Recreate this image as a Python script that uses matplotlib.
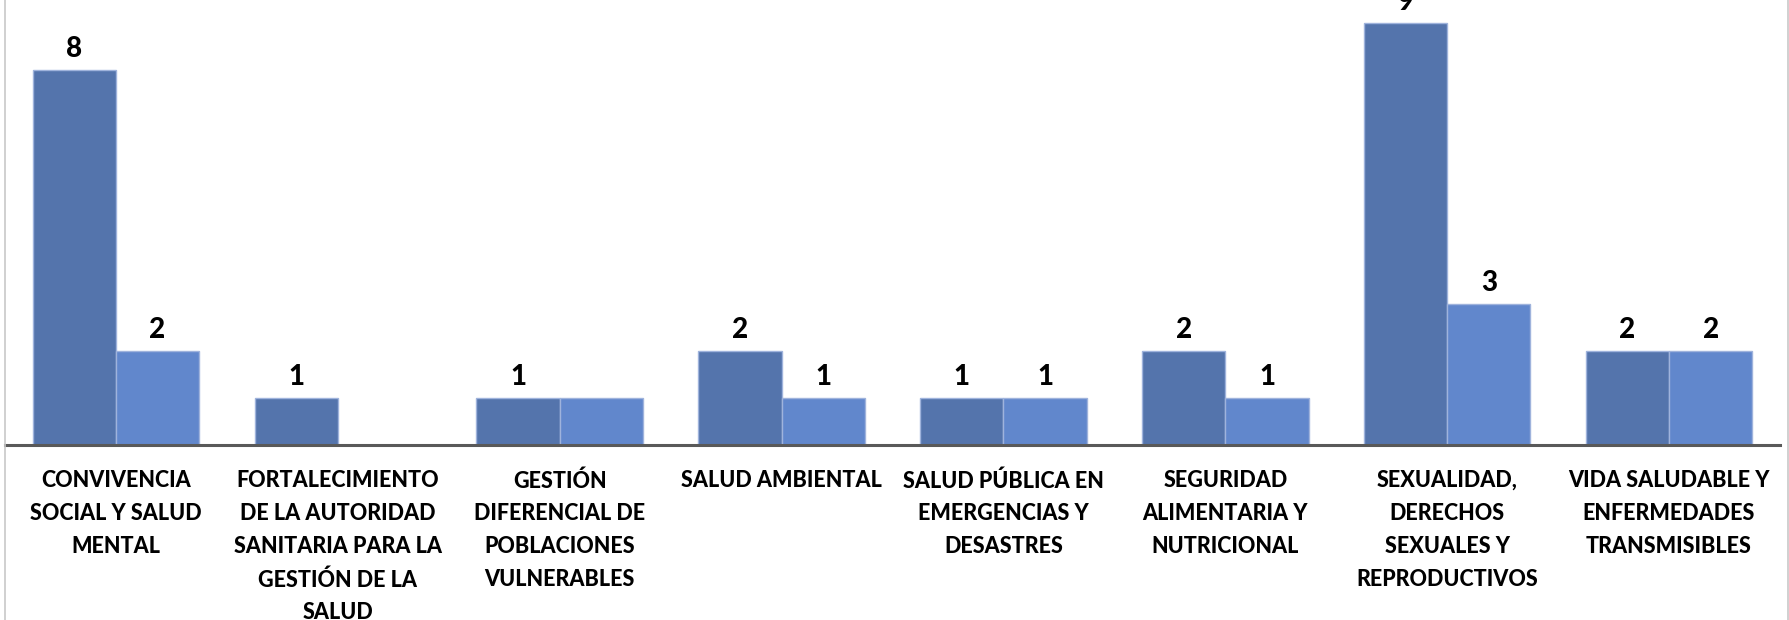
import numpy as np
import matplotlib
matplotlib.use("Agg")
import matplotlib.pyplot as plt
from matplotlib.lines import Line2D

categories = [
    "CONVIVENCIA\nSOCIAL Y SALUD\nMENTAL",
    "FORTALECIMIENTO\nDE LA AUTORIDAD\nSANITARIA PARA LA\nGESTIÓN DE LA\nSALUD",
    "GESTIÓN\nDIFERENCIAL DE\nPOBLACIONES\nVULNERABLES",
    "SALUD AMBIENTAL",
    "SALUD PÚBLICA EN\nEMERGENCIAS Y\nDESASTRES",
    "SEGURIDAD\nALIMENTARIA Y\nNUTRICIONAL",
    "SEXUALIDAD,\nDERECHOS\nSEXUALES Y\nREPRODUCTIVOS",
    "VIDA SALUDABLE Y\nENFERMEDADES\nTRANSMISIBLES",
]
serie_1 = [8, 1, 1, 2, 1, 2, 9, 2]
serie_2 = [2, 0, 1, 1, 1, 1, 3, 2]
etiquetas_1 = ["8", "1", "1", "2", "1", "2", "9", "2"]
etiquetas_2 = ["2", "", "", "1", "1", "1", "3", "2"]

FONT = ["Lato", "DejaVu Sans"]
DARK, LIGHT, EDGE = "#5474ac", "#6187cc", "#9fb3dc"

fig = plt.figure(figsize=(17.9, 6.2), dpi=100)
ax = fig.add_axes([5 / 1790, 1 - 445 / 620, 1775 / 1790, 445 / 620])

x = np.arange(len(categories))
w = 0.375
b1 = ax.bar(x - w / 2, serie_1, w, color=DARK, edgecolor=EDGE, lw=1.0)
b2 = ax.bar(x + w / 2, serie_2, w, color=LIGHT, edgecolor=EDGE, lw=1.0)
for bars, labs in ((b1, etiquetas_1), (b2, etiquetas_2)):
    ax.bar_label(bars, labels=labs, padding=6, fontsize=20, fontweight="black",
                 family=FONT, color="black", clip_on=False)

ax.set_xlim(-0.5, len(categories) - 0.5)
ax.set_ylim(0, 9.49)
ax.set_yticks([])
for s in ("top", "left", "right"):
    ax.spines[s].set_visible(False)
ax.spines["bottom"].set_color("#595959")
ax.spines["bottom"].set_linewidth(2.2)
ax.set_xticks(x)
ax.set_xticklabels(categories, fontsize=15.5, fontweight="black", family=FONT,
                   linespacing=1.7, ha="center", va="top")
ax.tick_params(axis="x", length=0, pad=18)

# chart-area border (left / right edges visible)
for xf in (5 / 1790, 1788 / 1790):
    fig.add_artist(Line2D([xf, xf], [0, 1], color="#c8c8c8", lw=1.2))

fig.savefig("out.png", dpi=100)
